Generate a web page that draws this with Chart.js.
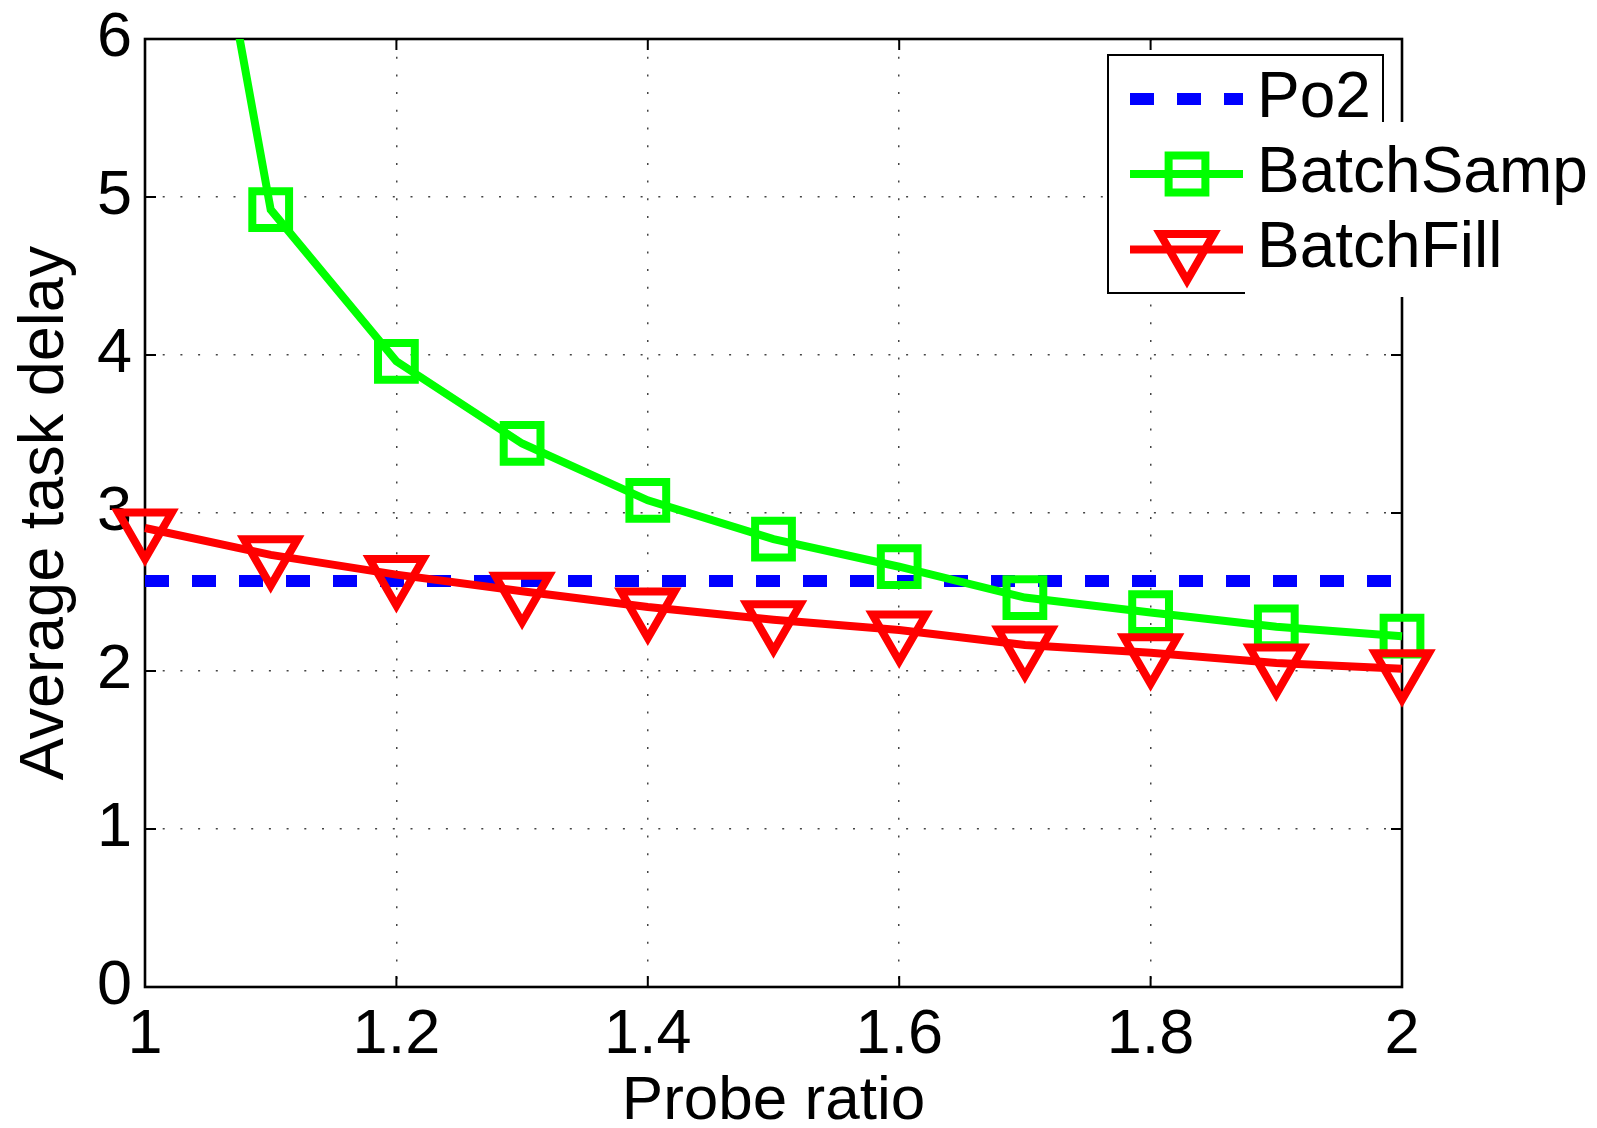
<!DOCTYPE html>
<html>
<head>
<meta charset="utf-8">
<title>Average task delay vs probe ratio</title>
<script src="https://cdn.jsdelivr.net/npm/chart.js@4.4.1/dist/chart.umd.min.js"></script>
<style>
  html, body { margin: 0; padding: 0; background: #fff; }
  canvas { display: block; }
</style>
</head>
<body>
<canvas id="chartDelay" width="1597" height="1128"></canvas>
<script>
// values
const probeRatios = [1, 1.1, 1.2, 1.3, 1.4, 1.5, 1.6, 1.7, 1.8, 1.9, 2];
const po2Delay = [2.57, 2.57, 2.57, 2.57, 2.57, 2.57, 2.57, 2.57, 2.57, 2.57, 2.57];
const batchSampDelay = [9.3, 4.92, 3.96, 3.44, 3.08, 2.835, 2.66, 2.465, 2.37, 2.28, 2.22];
const batchFillDelay = [2.905, 2.735, 2.61, 2.505, 2.405, 2.325, 2.26, 2.165, 2.115, 2.05, 2.015];

const xTickValues = [1, 1.2, 1.4, 1.6, 1.8, 2];
const xTickLabels = ['1', '1.2', '1.4', '1.6', '1.8', '2'];
const yTickValues = [0, 1, 2, 3, 4, 5, 6];
const yTickLabels = ['0', '1', '2', '3', '4', '5', '6'];

const FONT = '"Liberation Sans", Arial, Helvetica, sans-serif';
Chart.defaults.font.family = FONT;
Chart.defaults.color = '#000';

function toPoints(ys) {
  return probeRatios.map((x, i) => ({ x: x, y: ys[i] }));
}

// axes box with inward ticks, like matlab
const framePlugin = {
  id: 'frame',
  beforeDatasetsDraw(chart) {
    const { ctx, chartArea: a, scales } = chart;
    ctx.save();
    ctx.strokeStyle = '#000';
    ctx.lineWidth = 2;
    ctx.beginPath();
    xTickValues.forEach(v => {
      const px = scales.x.getPixelForValue(v);
      ctx.moveTo(px, a.bottom); ctx.lineTo(px, a.bottom - 11);
      ctx.moveTo(px, a.top); ctx.lineTo(px, a.top + 11);
    });
    yTickValues.forEach(v => {
      const py = scales.y.getPixelForValue(v);
      ctx.moveTo(a.left, py); ctx.lineTo(a.left + 11, py);
      ctx.moveTo(a.right, py); ctx.lineTo(a.right - 11, py);
    });
    ctx.stroke();
    ctx.lineWidth = 2.6;
    ctx.strokeRect(a.left, a.top, a.right - a.left, a.bottom - a.top);
    ctx.restore();
  }
};

function drawMarker(ctx, ds, cx, cy) {
  const r = ds.pointRadius;
  ctx.lineWidth = ds.pointBorderWidth;
  ctx.strokeStyle = ds.borderColor;
  ctx.setLineDash([]);
  ctx.beginPath();
  if (ds.pointStyle === 'rect') {
    const s = r * Math.SQRT1_2;
    ctx.rect(cx - s, cy - s, 2 * s, 2 * s);
  } else if (ds.pointStyle === 'triangle') {
    let rad = (ds.pointRotation || 0) * Math.PI / 180;
    ctx.moveTo(cx + Math.sin(rad) * r, cy - Math.cos(rad) * r);
    rad += 2 * Math.PI / 3;
    ctx.lineTo(cx + Math.sin(rad) * r, cy - Math.cos(rad) * r);
    rad += 2 * Math.PI / 3;
    ctx.lineTo(cx + Math.sin(rad) * r, cy - Math.cos(rad) * r);
    ctx.closePath();
  }
  ctx.stroke();
}

// boxed legend in the top right corner
const legendPlugin = {
  id: 'boxLegend',
  afterDraw(chart) {
    const ctx = chart.ctx;
    const box = { left: 1108, top: 55, right: 1383, bottom: 293 };
    const rows = [99, 174, 249.5];
    ctx.save();
    ctx.fillStyle = '#fff';
    ctx.fillRect(box.left, box.top, box.right - box.left, box.bottom - box.top);
    ctx.strokeStyle = '#000';
    ctx.lineWidth = 2;
    ctx.strokeRect(box.left, box.top, box.right - box.left, box.bottom - box.top);
    // the long labels paint their own white background over the box edge
    ctx.fillStyle = '#fff';
    ctx.fillRect(1245, 122, 352, 175);

    chart.data.datasets.forEach((ds, i) => {
      const y = rows[i];
      ctx.strokeStyle = ds.borderColor;
      ctx.lineWidth = ds.borderWidth;
      ctx.setLineDash(ds.borderDash || []);
      ctx.beginPath();
      ctx.moveTo(1130, y);
      ctx.lineTo(1243, y);
      ctx.stroke();
      if (ds.pointRadius > 0) drawMarker(ctx, ds, 1187, y);
      ctx.setLineDash([]);
      ctx.fillStyle = '#000';
      ctx.font = '64px ' + FONT;
      ctx.textBaseline = 'middle';
      ctx.textAlign = 'left';
      ctx.fillText(ds.label, 1257, y);
    });
    ctx.restore();
  }
};

const ctx = document.getElementById('chartDelay');

new Chart(ctx, {
  type: 'line',
  data: {
    datasets: [{
      label: 'Po2',
      data: toPoints(po2Delay),
      borderColor: '#0000ff',
      borderWidth: 12,
      borderDash: [24, 23],
      pointRadius: 0,
      order: 3,
      clip: false
    }, {
      label: 'BatchSamp',
      data: toPoints(batchSampDelay),
      borderColor: '#00ff00',
      borderWidth: 8,
      pointStyle: 'rect',
      pointRadius: 26,
      pointBorderWidth: 8,
      pointBorderColor: '#00ff00',
      pointBackgroundColor: 'transparent',
      order: 2,
      clip: { left: 60, top: 0, right: 60, bottom: 60 }
    }, {
      label: 'BatchFill',
      data: toPoints(batchFillDelay),
      borderColor: '#ff0000',
      borderWidth: 8,
      pointStyle: 'triangle',
      pointRotation: 180,
      pointRadius: 31,
      pointBorderWidth: 8,
      pointBorderColor: '#ff0000',
      pointBackgroundColor: 'transparent',
      order: 1,
      clip: false
    }]
  },
  options: {
    responsive: false,
    animation: false,
    devicePixelRatio: 1,
    layout: { padding: { top: 35, right: 195, left: 0, bottom: 0 } },
    elements: { line: { tension: 0 } },
    plugins: { legend: { display: false }, tooltip: { enabled: false } },
    events: [],
    scales: {
      x: {
        type: 'linear',
        min: 1,
        max: 2,
        afterBuildTicks: s => { s.ticks = xTickValues.map(v => ({ value: v })); },
        afterFit: s => { s.height = 141; s.paddingLeft = 0; s.paddingRight = 0; },
        ticks: {
          callback: v => xTickLabels[xTickValues.indexOf(v)],
          font: { size: 63, lineHeight: 1 },
          color: '#000',
          padding: 17,
          maxRotation: 0,
          autoSkip: false
        },
        grid: { color: '#444', lineWidth: 1.5, drawTicks: false, borderDash: [2, 15.7] },
        border: { display: false, dash: [2, 15.7] },
        title: {
          display: true,
          text: 'Probe ratio',
          font: { size: 62, lineHeight: 0.85 },
          color: '#000',
          padding: { top: 0, bottom: 0 }
        }
      },
      y: {
        type: 'linear',
        min: 0,
        max: 6,
        afterBuildTicks: s => { s.ticks = yTickValues.map(v => ({ value: v })); },
        afterFit: s => { s.width = 145; s.paddingTop = 0; s.paddingBottom = 0; },
        ticks: {
          callback: v => yTickLabels[yTickValues.indexOf(v)],
          font: { size: 63, lineHeight: 1 },
          color: '#000',
          padding: 13
        },
        grid: { color: '#444', lineWidth: 1.5, drawTicks: false, borderDash: [2, 15.7] },
        border: { display: false, dash: [2, 15.7] },
        title: {
          display: true,
          text: 'Average task delay',
          font: { size: 63, lineHeight: 1 },
          color: '#000',
          padding: { top: 14, bottom: 0 }
        }
      }
    }
  },
  plugins: [framePlugin, legendPlugin]
});
</script>
</body>
</html>
